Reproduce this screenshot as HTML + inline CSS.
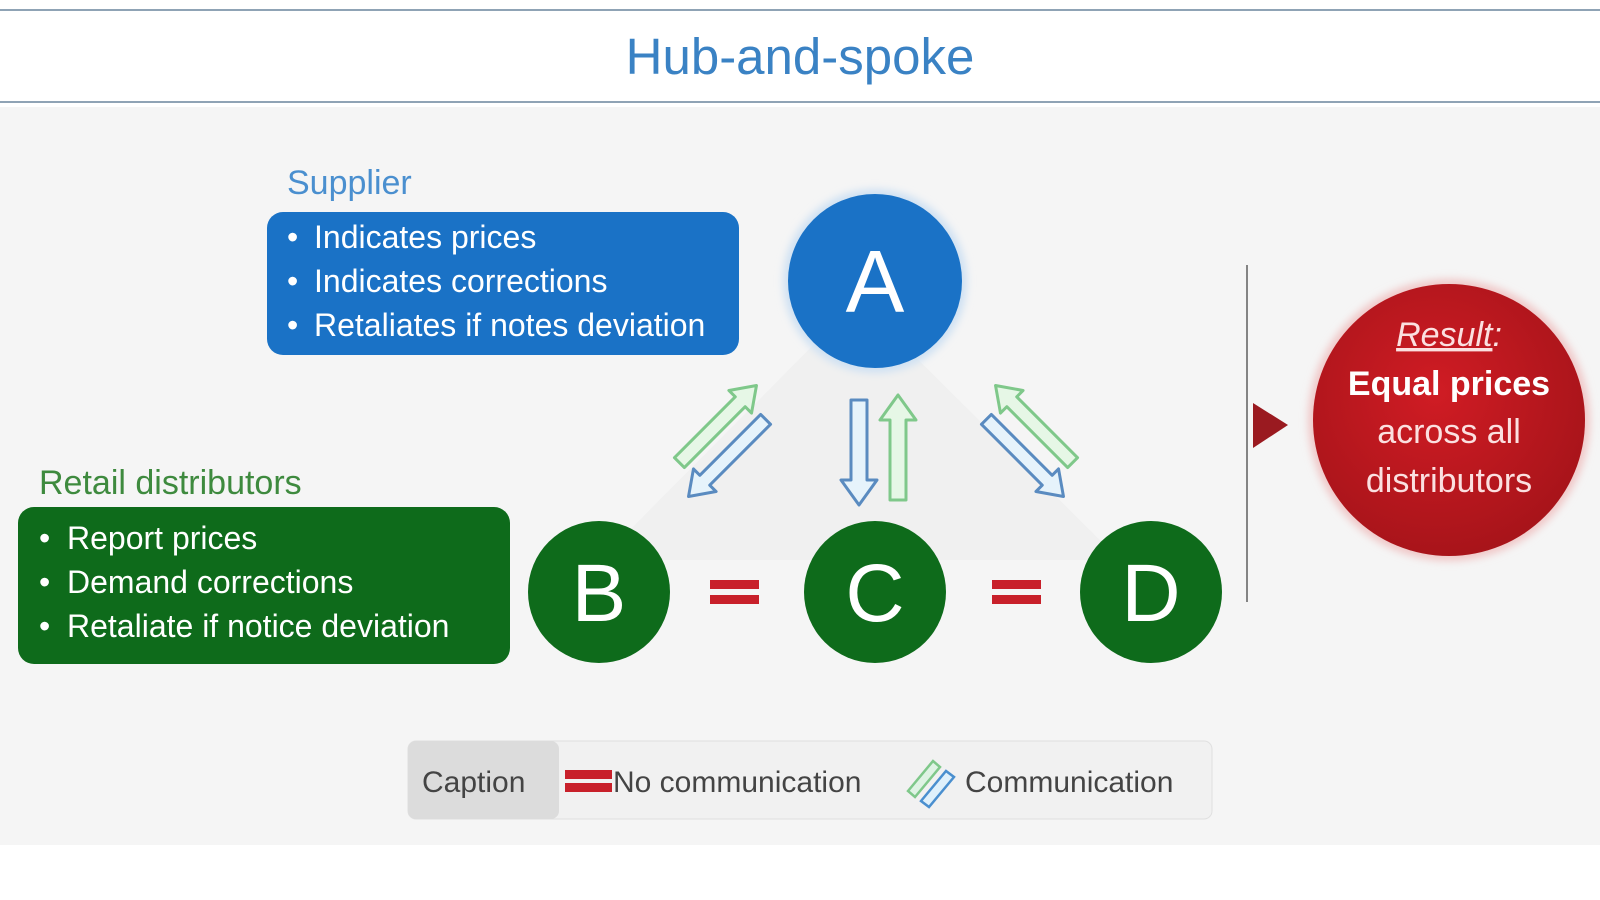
<!DOCTYPE html>
<html><head><meta charset="utf-8"><style>
html,body{margin:0;padding:0;background:#fff;}
svg{display:block;font-family:"Liberation Sans",sans-serif;}
</style></head><body>
<svg width="1600" height="900" viewBox="0 0 1600 900" xmlns="http://www.w3.org/2000/svg">
<defs>
<radialGradient id="rg" cx="45%" cy="40%" r="60%"><stop offset="0" stop-color="#d01c24"/><stop offset="1" stop-color="#a8141a"/></radialGradient>
<filter id="gl"><feGaussianBlur stdDeviation="4"/></filter>
</defs>
<rect width="1600" height="900" fill="#fff"/>
<rect x="0" y="107" width="1600" height="738" fill="#f5f5f5"/>
<line x1="0" y1="10" x2="1600" y2="10" stroke="#8fa3b5" stroke-width="2"/>
<line x1="0" y1="102" x2="1600" y2="102" stroke="#8fa3b5" stroke-width="2"/>
<text x="800" y="74" text-anchor="middle" font-size="51" fill="#3a82c4">Hub-and-spoke</text>

<polygon points="858,300 600,560 1120,560" fill="#f0f0f0"/>

<text x="287" y="194" font-size="34" fill="#4a8fcf">Supplier</text>
<rect x="267" y="212" width="472" height="143" rx="16" fill="#1a72c6"/>
<g font-size="32" fill="#fff">
<text x="287" y="248">•</text><text x="314" y="248">Indicates prices</text>
<text x="287" y="292">•</text><text x="314" y="292">Indicates corrections</text>
<text x="287" y="336">•</text><text x="314" y="336">Retaliates if notes deviation</text>
</g>

<text x="39" y="494" font-size="34" fill="#3e8a3e">Retail distributors</text>
<rect x="18" y="507" width="492" height="157" rx="16" fill="#0e6b1b"/>
<g font-size="32" fill="#fff">
<text x="39" y="549">•</text><text x="67" y="549">Report prices</text>
<text x="39" y="593">•</text><text x="67" y="593">Demand corrections</text>
<text x="39" y="637">•</text><text x="67" y="637">Retaliate if notice deviation</text>
</g>

<circle cx="875" cy="281" r="92" fill="#cfe1f3" filter="url(#gl)"/>
<circle cx="875" cy="281" r="87" fill="#1a72c6"/>
<text x="875" y="312" text-anchor="middle" font-size="88" fill="#fff">A</text>

<g fill="#0e6b1b">
<circle cx="599" cy="592" r="71"/><circle cx="875" cy="592" r="71"/><circle cx="1151" cy="592" r="71"/>
</g>
<g font-size="82" fill="#fff" text-anchor="middle">
<text x="599" y="621">B</text><text x="875" y="621">C</text><text x="1151" y="621">D</text>
</g>
<g fill="#c8202a">
<rect x="710" y="580" width="49" height="9"/><rect x="710" y="595" width="49" height="9"/>
<rect x="992" y="580" width="49" height="9"/><rect x="992" y="595" width="49" height="9"/>
</g>

<g stroke-width="3" stroke-linejoin="round">
<g transform="translate(719,423) rotate(45)"><path d="M-7,56 L-7,-30 L-16,-30 L0,-53 L16,-30 L7,-30 L7,56 Z" fill="#e6f7e6" stroke="#7fc88a"/></g>
<g transform="translate(726,459) rotate(225)"><path d="M-7,56 L-7,-30 L-16,-30 L0,-53 L16,-30 L7,-30 L7,56 Z" fill="#e6f3fb" stroke="#5a8bc0"/></g>
<path d="M851,400 L867,400 L867,480 L877,480 L859,505 L841,480 L851,480 Z" fill="#e6f3fb" stroke="#5a8bc0"/>
<path d="M890,500 L906,500 L906,420 L916,420 L898,395 L880,420 L890,420 Z" fill="#e6f7e6" stroke="#7fc88a"/>
<g transform="translate(1033,423) rotate(-45)"><path d="M-7,56 L-7,-30 L-16,-30 L0,-53 L16,-30 L7,-30 L7,56 Z" fill="#e6f7e6" stroke="#7fc88a"/></g>
<g transform="translate(1026,459) rotate(135)"><path d="M-7,56 L-7,-30 L-16,-30 L0,-53 L16,-30 L7,-30 L7,56 Z" fill="#e6f3fb" stroke="#5a8bc0"/></g>
</g>

<line x1="1247" y1="265" x2="1247" y2="602" stroke="#555" stroke-width="2" opacity="0.7"/>
<polygon points="1253,403 1288,425 1253,448" fill="#9a1a20"/>

<circle cx="1449" cy="420" r="141" fill="#f0c8c8" filter="url(#gl)"/>
<circle cx="1449" cy="420" r="136" fill="url(#rg)"/>
<g text-anchor="middle" font-size="34" fill="#fbe0e0">
<text x="1449" y="346" font-style="italic"><tspan text-decoration="underline">Result</tspan>:</text>
<text x="1449" y="395" font-weight="bold" fill="#fff">Equal prices</text>
<text x="1449" y="443">across all</text>
<text x="1449" y="492">distributors</text>
</g>

<rect x="408" y="741" width="804" height="78" rx="8" fill="#f1f1f1" stroke="#e0e0e0"/>
<rect x="408" y="741" width="151" height="78" rx="8" fill="#dcdcdc"/>
<text x="422" y="792" font-size="30" fill="#444">Caption</text>
<rect x="565" y="770" width="47" height="9" fill="#c8202a"/><rect x="565" y="783" width="47" height="9" fill="#c8202a"/>
<text x="613" y="792" font-size="30" fill="#444">No communication</text>
<g stroke-width="2.5">
<path d="M908,791 L933,761 L940,767 L915,797 Z" fill="#dff3e4" stroke="#7fc88a"/>
<path d="M921,801 L946,771 L954,777 L929,807 Z" fill="#dff0fb" stroke="#4a8fcf"/>
</g>
<text x="965" y="792" font-size="30" fill="#444">Communication</text>
</svg>
</body></html>
